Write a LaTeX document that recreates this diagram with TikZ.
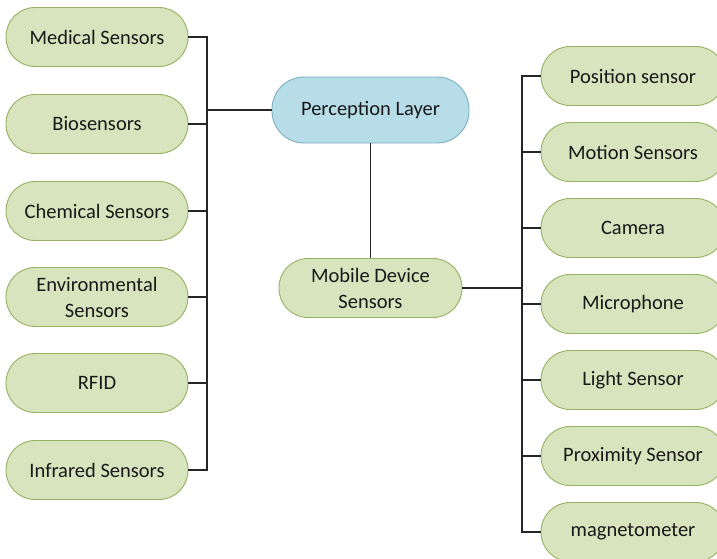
\documentclass[tikz,border=0pt]{standalone}
\usepackage{fontspec}
\setmainfont{Carlito}
\definecolor{gfill}{HTML}{D7E4BD}
\definecolor{gline}{HTML}{98B062}
\definecolor{bfill}{HTML}{B7DDE8}
\definecolor{bline}{HTML}{7AAFC4}
\begin{document}
\begin{tikzpicture}[x=1pt,y=-1pt,
  gbox/.style={draw=gline,fill=gfill,line width=0.9pt,rounded corners=29pt,minimum width=182pt,minimum height=59pt,inner sep=0pt,align=center,font=\fontsize{20.5}{26}\selectfont,text=black!90},
  bbox/.style={gbox,draw=bline,fill=bfill,rounded corners=32pt,minimum width=197pt,minimum height=66pt},
  rbox/.style={gbox,minimum width=184pt},
  conn/.style={draw=black!85,line width=1.3pt}]
\useasboundingbox (0,0) rectangle (717,559);
\begin{scope}
\clip (0,0) rectangle (717,559);
\node[gbox] (med) at (97,37) {Medical Sensors};
\node[gbox] (bio) at (97,124) {Biosensors};
\node[gbox] (chem) at (97,211) {Chemical Sensors};
\node[gbox] (env) at (97,297) {Environmental\\Sensors};
\node[gbox] (rfid) at (97,383) {RFID};
\node[gbox] (ir) at (97,470) {Infrared Sensors};
\node[bbox] (per) at (370.5,110) {Perception Layer};
\node[gbox,minimum width=183pt] (mob) at (370.5,288) {Mobile Device\\Sensors};
\node[rbox] (pos) at (633,76) {Position sensor};
\node[rbox] (mot) at (633,152) {Motion Sensors};
\node[rbox] (cam) at (633,228) {Camera};
\node[rbox] (mic) at (633,304) {Microphone};
\node[rbox] (lig) at (633,380) {Light Sensor};
\node[rbox] (pro) at (633,456) {Proximity Sensor};
\node[rbox] (mag) at (633,532) {magnetometer};
\end{scope}
\coordinate (lb) at (207,0);
\coordinate (rb) at (522,0);
\draw[conn] (med.east) -| (lb |- ir.east) -- (ir.east);
\foreach \n in {bio,chem,env,rfid} \draw[conn] (\n.east) -- (lb |- \n.east);
\draw[conn] (lb |- per.west) -- (per.west);
\draw[conn] (per.south) -- (mob.north);
\draw[conn] (pos.west) -| (rb |- mag.west) -- (mag.west);
\foreach \n in {mot,cam,mic,lig,pro} \draw[conn] (\n.west) -- (rb |- \n.west);
\draw[conn] (mob.east) -- (rb |- mob.east);
\end{tikzpicture}
\end{document}
